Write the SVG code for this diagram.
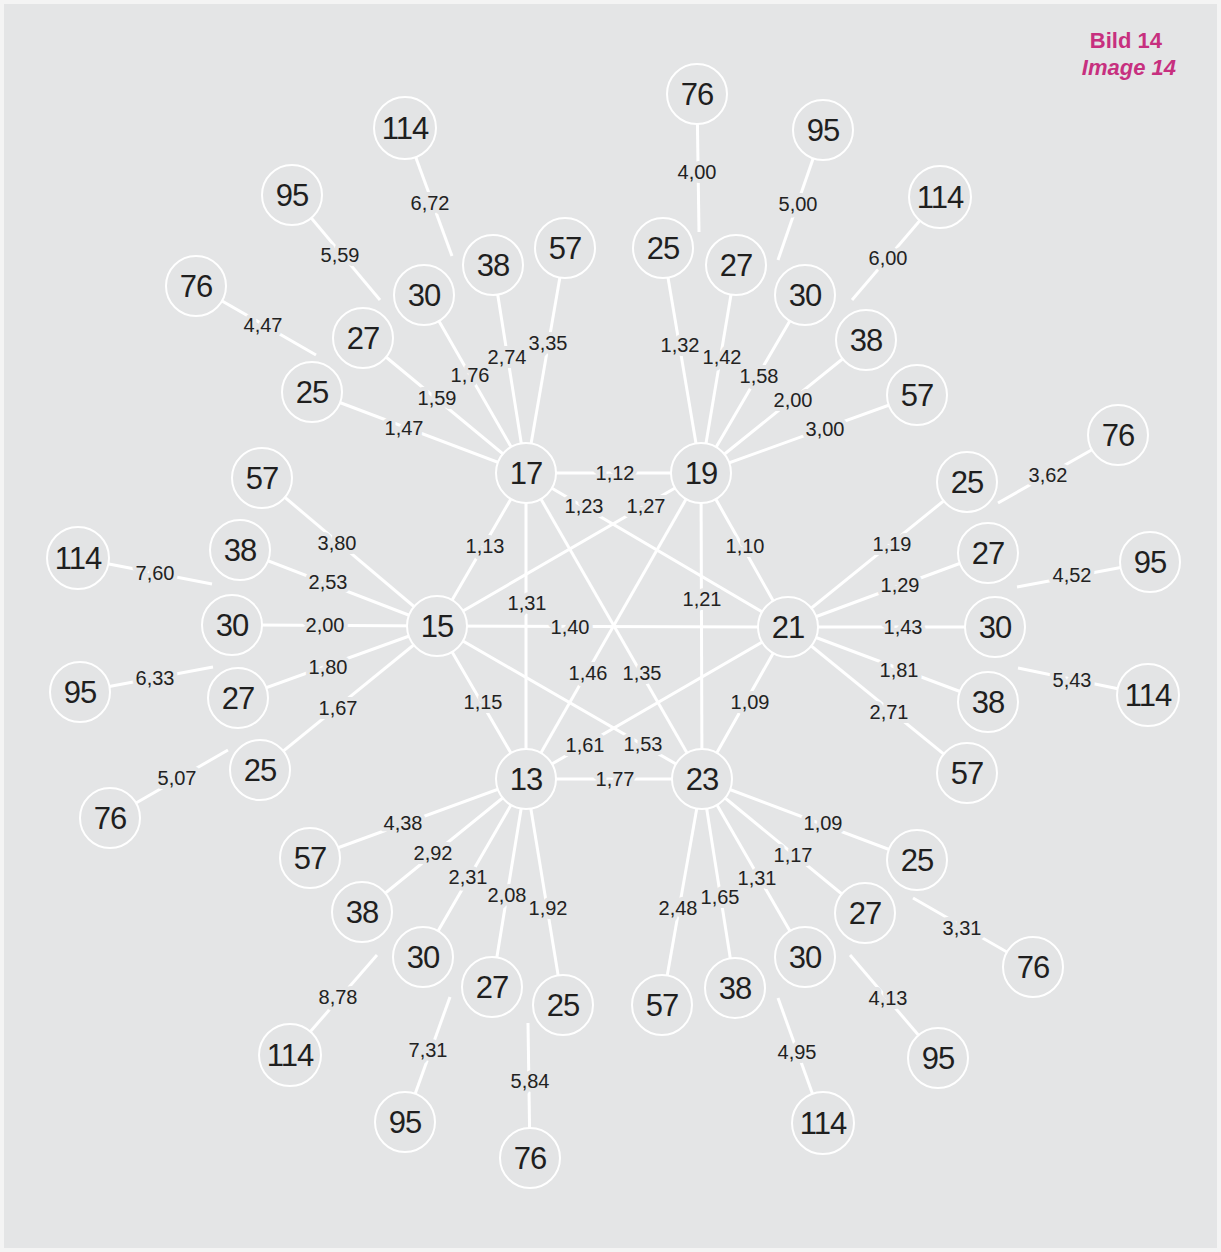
<svg xmlns="http://www.w3.org/2000/svg" width="1221" height="1252" viewBox="0 0 1221 1252">
<style>
.edge{stroke:#ffffff;stroke-width:3;stroke-linecap:butt;fill:none}
.node circle{fill:#e3e4e5;stroke:#ffffff;stroke-width:2}
.node text{font-family:"Liberation Sans",Arial,Helvetica,sans-serif;font-size:31px;fill:#1f1f1f;text-anchor:middle;letter-spacing:-1px}
.lbl text{font-family:"Liberation Sans",Arial,Helvetica,sans-serif;font-size:20px;fill:#222222;text-anchor:middle;paint-order:stroke;stroke:#e4e5e6;stroke-width:8px;stroke-linejoin:round}
.title{font-family:"Liberation Sans",Arial,Helvetica,sans-serif;font-size:22px;font-weight:bold;fill:#c7307f;text-anchor:end}
</style>
<rect x="0" y="0" width="1221" height="1252" fill="#f4f4f4"/>
<rect x="4" y="4" width="1213" height="1244" fill="#e4e5e6"/>
<text class="title" x="1162" y="48">Bild 14</text>
<text class="title" x="1176" y="75" font-style="italic">Image 14</text>

<g id="connectors" class="edge">
<!-- central complete graph -->
<line x1="526" y1="473" x2="701" y2="473"/>
<line x1="526" y1="473" x2="788" y2="627"/>
<line x1="526" y1="473" x2="702" y2="779"/>
<line x1="526" y1="473" x2="526" y2="779"/>
<line x1="526" y1="473" x2="437" y2="626"/>
<line x1="701" y1="473" x2="788" y2="627"/>
<line x1="701" y1="473" x2="702" y2="779"/>
<line x1="701" y1="473" x2="526" y2="779"/>
<line x1="701" y1="473" x2="437" y2="626"/>
<line x1="788" y1="627" x2="702" y2="779"/>
<line x1="788" y1="627" x2="526" y2="779"/>
<line x1="788" y1="627" x2="437" y2="626"/>
<line x1="702" y1="779" x2="526" y2="779"/>
<line x1="702" y1="779" x2="437" y2="626"/>
<line x1="526" y1="779" x2="437" y2="626"/>
<!-- spokes 17 -->
<line x1="526" y1="473" x2="312" y2="392"/>
<line x1="526" y1="473" x2="363" y2="338"/>
<line x1="526" y1="473" x2="424" y2="295"/>
<line x1="526" y1="473" x2="493" y2="265"/>
<line x1="526" y1="473" x2="565" y2="248"/>
<line x1="196" y1="286" x2="316" y2="355"/>
<line x1="292" y1="195" x2="380" y2="300"/>
<line x1="405" y1="128" x2="452" y2="256"/>
<!-- spokes 19 -->
<line x1="701" y1="473" x2="663" y2="248"/>
<line x1="701" y1="473" x2="736" y2="265"/>
<line x1="701" y1="473" x2="805" y2="295"/>
<line x1="701" y1="473" x2="866" y2="340"/>
<line x1="701" y1="473" x2="917" y2="395"/>
<line x1="697" y1="94" x2="699" y2="232"/>
<line x1="823" y1="130" x2="778" y2="260"/>
<line x1="940" y1="197" x2="852" y2="300"/>
<!-- spokes 21 -->
<line x1="788" y1="627" x2="967" y2="482"/>
<line x1="788" y1="627" x2="988" y2="553"/>
<line x1="788" y1="627" x2="995" y2="627"/>
<line x1="788" y1="627" x2="988" y2="702"/>
<line x1="788" y1="627" x2="967" y2="773"/>
<line x1="1118" y1="435" x2="998" y2="503"/>
<line x1="1150" y1="562" x2="1017" y2="587"/>
<line x1="1148" y1="695" x2="1018" y2="668"/>
<!-- spokes 23 -->
<line x1="702" y1="779" x2="917" y2="860"/>
<line x1="702" y1="779" x2="865" y2="913"/>
<line x1="702" y1="779" x2="805" y2="957"/>
<line x1="702" y1="779" x2="735" y2="988"/>
<line x1="702" y1="779" x2="662" y2="1005"/>
<line x1="1033" y1="967" x2="913" y2="898"/>
<line x1="938" y1="1058" x2="850" y2="955"/>
<line x1="823" y1="1123" x2="778" y2="998"/>
<!-- spokes 13 -->
<line x1="526" y1="779" x2="310" y2="858"/>
<line x1="526" y1="779" x2="362" y2="912"/>
<line x1="526" y1="779" x2="423" y2="957"/>
<line x1="526" y1="779" x2="492" y2="987"/>
<line x1="526" y1="779" x2="563" y2="1005"/>
<line x1="290" y1="1055" x2="377" y2="955"/>
<line x1="405" y1="1122" x2="450" y2="997"/>
<line x1="530" y1="1158" x2="528" y2="1023"/>
<!-- spokes 15 -->
<line x1="437" y1="626" x2="262" y2="478"/>
<line x1="437" y1="626" x2="240" y2="550"/>
<line x1="437" y1="626" x2="232" y2="625"/>
<line x1="437" y1="626" x2="238" y2="698"/>
<line x1="437" y1="626" x2="260" y2="770"/>
<line x1="78" y1="558" x2="212" y2="584"/>
<line x1="80" y1="692" x2="213" y2="667"/>
<line x1="110" y1="818" x2="228" y2="750"/>
</g>

<g id="edge-labels" class="lbl">
<text x="615" y="480">1,12</text>
<text x="584" y="513">1,23</text>
<text x="646" y="513">1,27</text>
<text x="485" y="553">1,13</text>
<text x="745" y="553">1,10</text>
<text x="527" y="610">1,31</text>
<text x="702" y="606">1,21</text>
<text x="570" y="634">1,40</text>
<text x="588" y="680">1,46</text>
<text x="642" y="680">1,35</text>
<text x="483" y="709">1,15</text>
<text x="750" y="709">1,09</text>
<text x="585" y="752">1,61</text>
<text x="643" y="751">1,53</text>
<text x="615" y="786">1,77</text>

<text x="404" y="435">1,47</text>
<text x="437" y="405">1,59</text>
<text x="470" y="382">1,76</text>
<text x="507" y="364">2,74</text>
<text x="548" y="350">3,35</text>
<text x="263" y="332">4,47</text>
<text x="340" y="262">5,59</text>
<text x="430" y="210">6,72</text>

<text x="680" y="352">1,32</text>
<text x="722" y="364">1,42</text>
<text x="759" y="383">1,58</text>
<text x="793" y="407">2,00</text>
<text x="825" y="436">3,00</text>
<text x="697" y="179">4,00</text>
<text x="798" y="211">5,00</text>
<text x="888" y="265">6,00</text>

<text x="892" y="551">1,19</text>
<text x="900" y="592">1,29</text>
<text x="903" y="634">1,43</text>
<text x="899" y="677">1,81</text>
<text x="889" y="719">2,71</text>
<text x="1048" y="482">3,62</text>
<text x="1072" y="582">4,52</text>
<text x="1072" y="687">5,43</text>

<text x="823" y="830">1,09</text>
<text x="793" y="862">1,17</text>
<text x="757" y="885">1,31</text>
<text x="720" y="904">1,65</text>
<text x="678" y="915">2,48</text>
<text x="962" y="935">3,31</text>
<text x="888" y="1005">4,13</text>
<text x="797" y="1059">4,95</text>

<text x="403" y="830">4,38</text>
<text x="433" y="860">2,92</text>
<text x="468" y="884">2,31</text>
<text x="507" y="902">2,08</text>
<text x="548" y="915">1,92</text>
<text x="338" y="1004">8,78</text>
<text x="428" y="1057">7,31</text>
<text x="530" y="1088">5,84</text>

<text x="337" y="550">3,80</text>
<text x="328" y="589">2,53</text>
<text x="325" y="632">2,00</text>
<text x="328" y="674">1,80</text>
<text x="338" y="715">1,67</text>
<text x="155" y="580">7,60</text>
<text x="155" y="685">6,33</text>
<text x="177" y="785">5,07</text>
</g>

<g id="n17" class="node" transform="translate(526 473)"><circle r="30"/><text y="11">17</text></g>
<g id="n19" class="node" transform="translate(701 473)"><circle r="30"/><text y="11">19</text></g>
<g id="n21" class="node" transform="translate(788 627)"><circle r="30"/><text y="11">21</text></g>
<g id="n23" class="node" transform="translate(702 779)"><circle r="30"/><text y="11">23</text></g>
<g id="n13" class="node" transform="translate(526 779)"><circle r="30"/><text y="11">13</text></g>
<g id="n15" class="node" transform="translate(437 626)"><circle r="30"/><text y="11">15</text></g>

<g id="n17-25" class="node" transform="translate(312 392)"><circle r="30"/><text y="11">25</text></g>
<g id="n17-27" class="node" transform="translate(363 338)"><circle r="30"/><text y="11">27</text></g>
<g id="n17-30" class="node" transform="translate(424 295)"><circle r="30"/><text y="11">30</text></g>
<g id="n17-38" class="node" transform="translate(493 265)"><circle r="30"/><text y="11">38</text></g>
<g id="n17-57" class="node" transform="translate(565 248)"><circle r="30"/><text y="11">57</text></g>
<g id="n17-76" class="node" transform="translate(196 286)"><circle r="30"/><text y="11">76</text></g>
<g id="n17-95" class="node" transform="translate(292 195)"><circle r="30"/><text y="11">95</text></g>
<g id="n17-114" class="node" transform="translate(405 128)"><circle r="31"/><text y="11">114</text></g>

<g id="n19-25" class="node" transform="translate(663 248)"><circle r="30"/><text y="11">25</text></g>
<g id="n19-27" class="node" transform="translate(736 265)"><circle r="30"/><text y="11">27</text></g>
<g id="n19-30" class="node" transform="translate(805 295)"><circle r="30"/><text y="11">30</text></g>
<g id="n19-38" class="node" transform="translate(866 340)"><circle r="30"/><text y="11">38</text></g>
<g id="n19-57" class="node" transform="translate(917 395)"><circle r="30"/><text y="11">57</text></g>
<g id="n19-76" class="node" transform="translate(697 94)"><circle r="30"/><text y="11">76</text></g>
<g id="n19-95" class="node" transform="translate(823 130)"><circle r="30"/><text y="11">95</text></g>
<g id="n19-114" class="node" transform="translate(940 197)"><circle r="31"/><text y="11">114</text></g>

<g id="n21-25" class="node" transform="translate(967 482)"><circle r="30"/><text y="11">25</text></g>
<g id="n21-27" class="node" transform="translate(988 553)"><circle r="30"/><text y="11">27</text></g>
<g id="n21-30" class="node" transform="translate(995 627)"><circle r="30"/><text y="11">30</text></g>
<g id="n21-38" class="node" transform="translate(988 702)"><circle r="30"/><text y="11">38</text></g>
<g id="n21-57" class="node" transform="translate(967 773)"><circle r="30"/><text y="11">57</text></g>
<g id="n21-76" class="node" transform="translate(1118 435)"><circle r="30"/><text y="11">76</text></g>
<g id="n21-95" class="node" transform="translate(1150 562)"><circle r="30"/><text y="11">95</text></g>
<g id="n21-114" class="node" transform="translate(1148 695)"><circle r="31"/><text y="11">114</text></g>

<g id="n23-25" class="node" transform="translate(917 860)"><circle r="30"/><text y="11">25</text></g>
<g id="n23-27" class="node" transform="translate(865 913)"><circle r="30"/><text y="11">27</text></g>
<g id="n23-30" class="node" transform="translate(805 957)"><circle r="30"/><text y="11">30</text></g>
<g id="n23-38" class="node" transform="translate(735 988)"><circle r="30"/><text y="11">38</text></g>
<g id="n23-57" class="node" transform="translate(662 1005)"><circle r="30"/><text y="11">57</text></g>
<g id="n23-76" class="node" transform="translate(1033 967)"><circle r="30"/><text y="11">76</text></g>
<g id="n23-95" class="node" transform="translate(938 1058)"><circle r="30"/><text y="11">95</text></g>
<g id="n23-114" class="node" transform="translate(823 1123)"><circle r="31"/><text y="11">114</text></g>

<g id="n13-57" class="node" transform="translate(310 858)"><circle r="30"/><text y="11">57</text></g>
<g id="n13-38" class="node" transform="translate(362 912)"><circle r="30"/><text y="11">38</text></g>
<g id="n13-30" class="node" transform="translate(423 957)"><circle r="30"/><text y="11">30</text></g>
<g id="n13-27" class="node" transform="translate(492 987)"><circle r="30"/><text y="11">27</text></g>
<g id="n13-25" class="node" transform="translate(563 1005)"><circle r="30"/><text y="11">25</text></g>
<g id="n13-114" class="node" transform="translate(290 1055)"><circle r="31"/><text y="11">114</text></g>
<g id="n13-95" class="node" transform="translate(405 1122)"><circle r="30"/><text y="11">95</text></g>
<g id="n13-76" class="node" transform="translate(530 1158)"><circle r="30"/><text y="11">76</text></g>

<g id="n15-57" class="node" transform="translate(262 478)"><circle r="30"/><text y="11">57</text></g>
<g id="n15-38" class="node" transform="translate(240 550)"><circle r="30"/><text y="11">38</text></g>
<g id="n15-30" class="node" transform="translate(232 625)"><circle r="30"/><text y="11">30</text></g>
<g id="n15-27" class="node" transform="translate(238 698)"><circle r="30"/><text y="11">27</text></g>
<g id="n15-25" class="node" transform="translate(260 770)"><circle r="30"/><text y="11">25</text></g>
<g id="n15-114" class="node" transform="translate(78 558)"><circle r="31"/><text y="11">114</text></g>
<g id="n15-95" class="node" transform="translate(80 692)"><circle r="30"/><text y="11">95</text></g>
<g id="n15-76" class="node" transform="translate(110 818)"><circle r="30"/><text y="11">76</text></g>
</svg>
